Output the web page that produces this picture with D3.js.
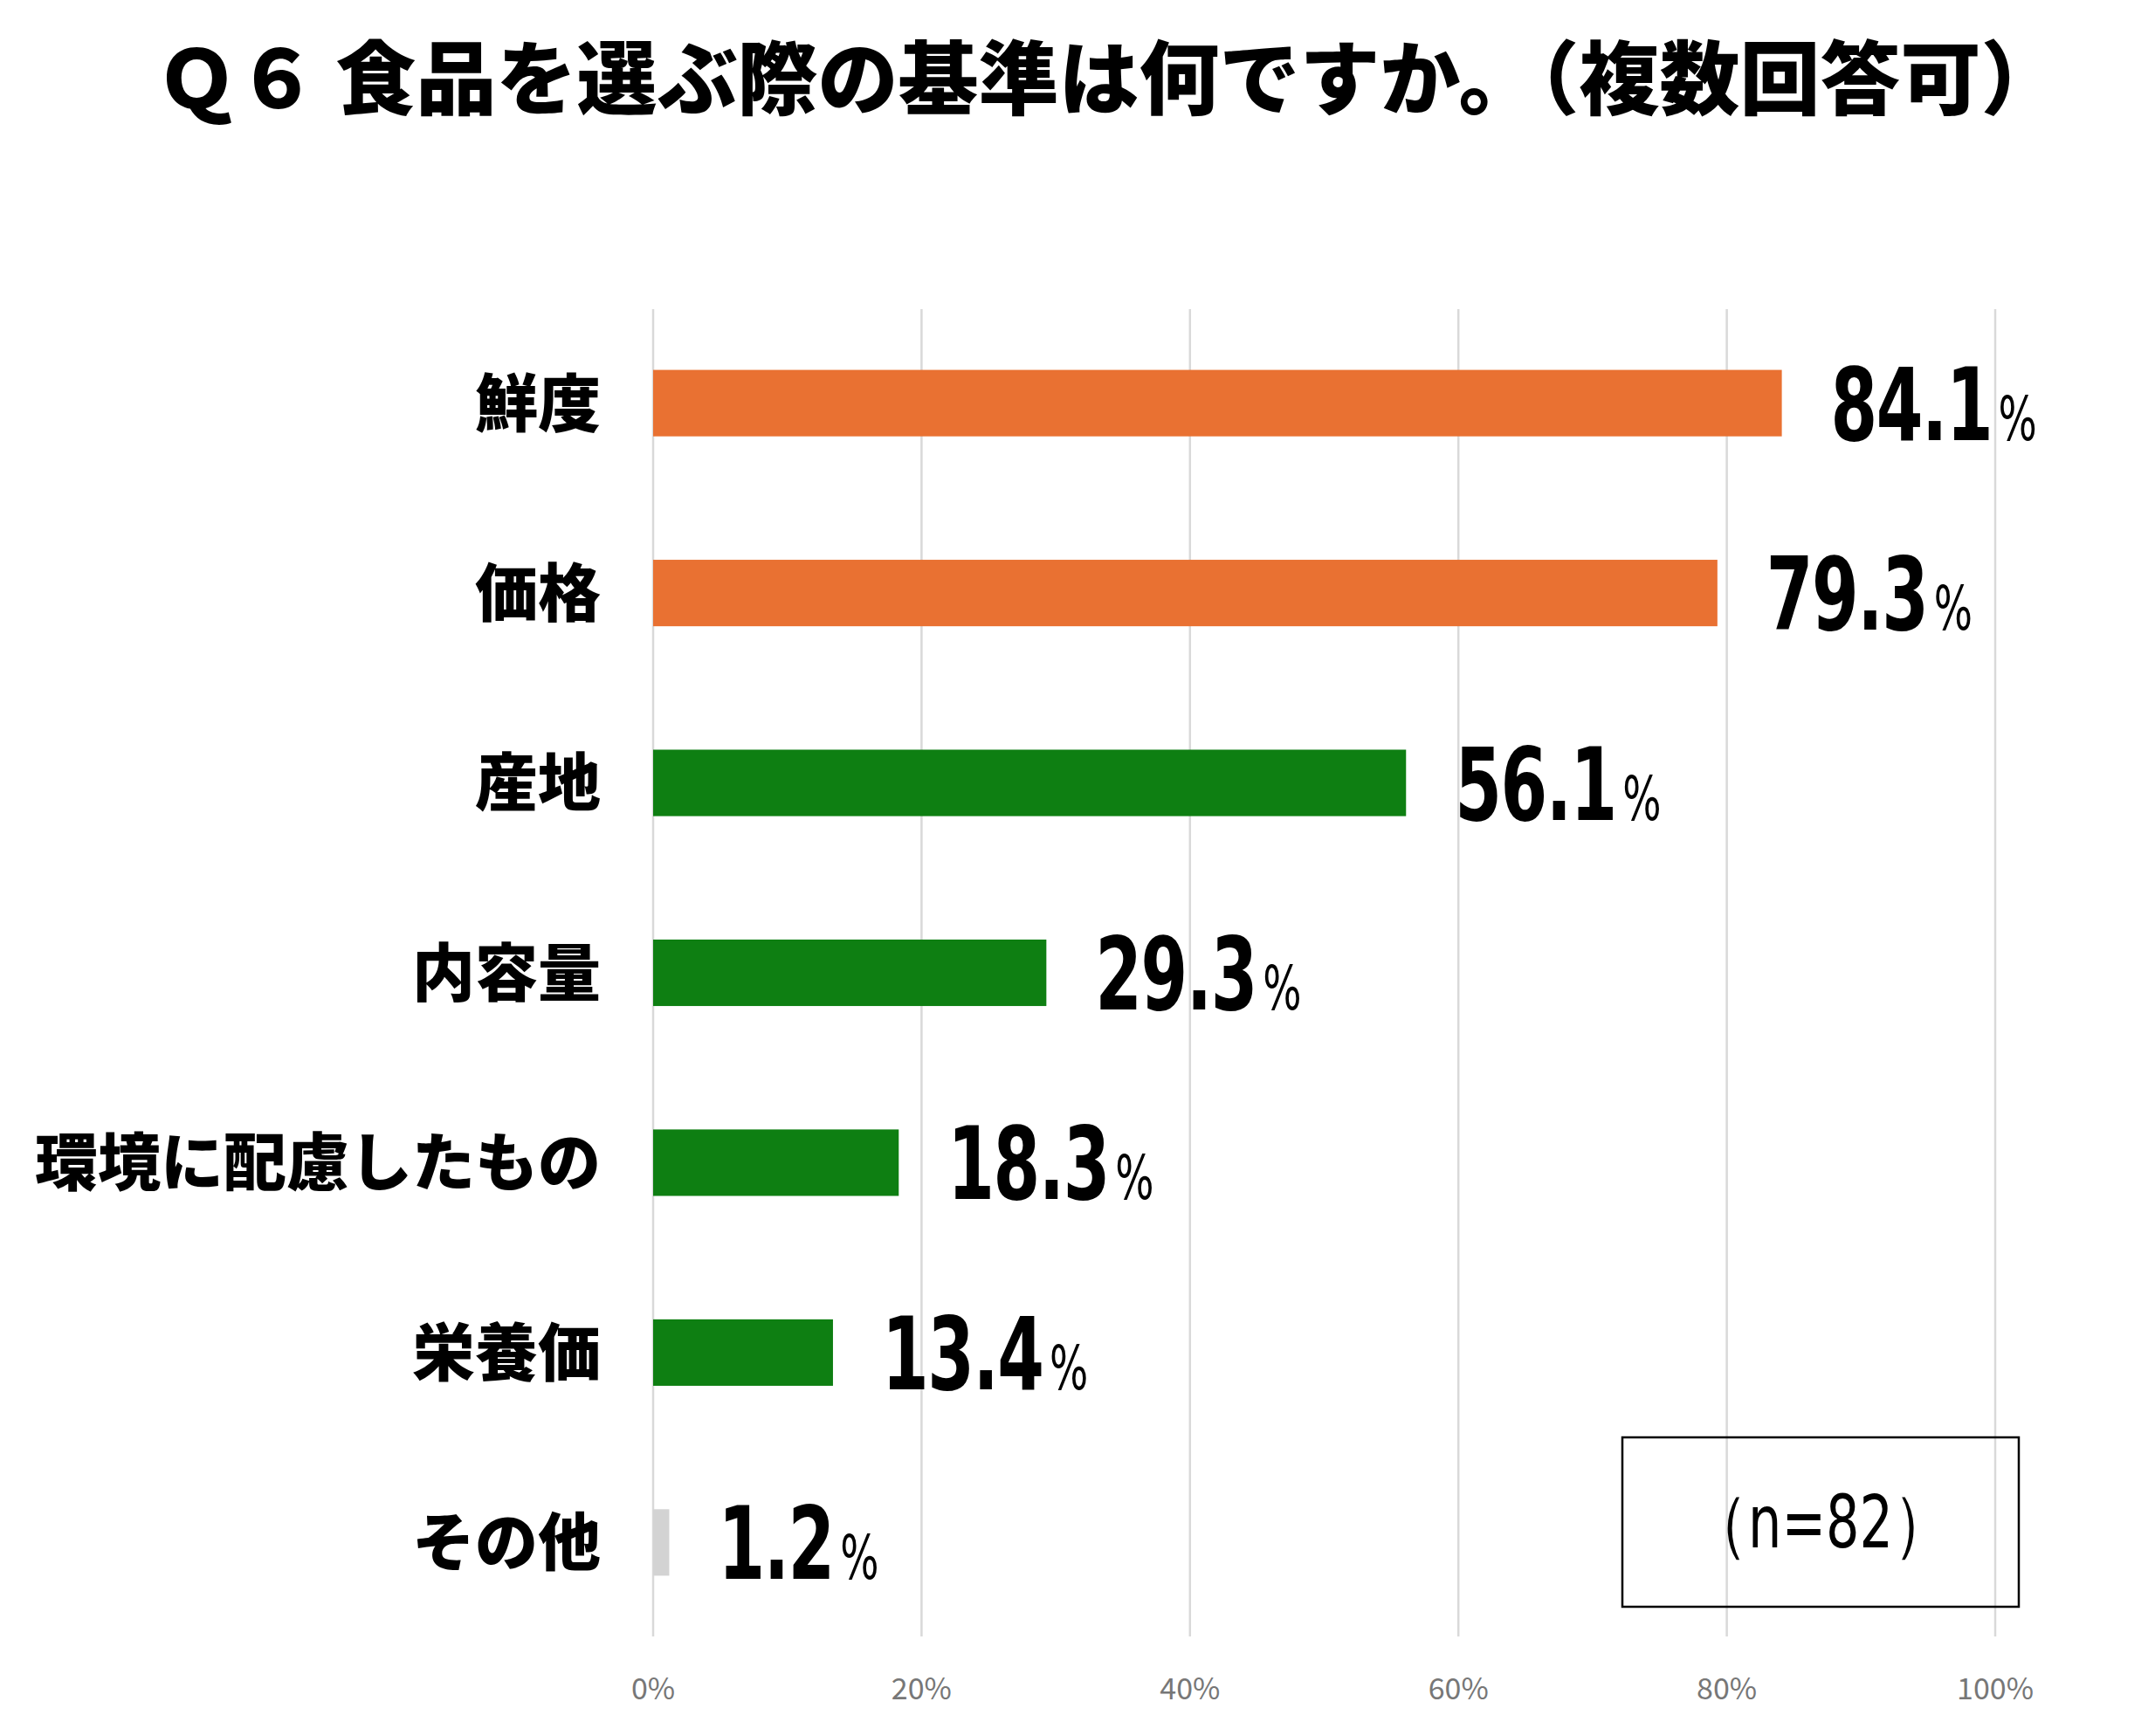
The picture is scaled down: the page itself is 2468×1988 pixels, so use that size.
<!DOCTYPE html>
<html><head><meta charset="utf-8">
<script src="https://cdn.jsdelivr.net/npm/d3@7"></script>
<style>body{margin:0;background:#fff}</style>
</head><body>
<svg width="2468" height="1988"></svg>
<script>
const categories = ["鮮度", "価格", "産地", "内容量", "環境に配慮したもの", "栄養価", "その他"];
const values = [84.1, 79.3, 56.1, 29.3, 18.3, 13.4, 1.2];
const colors = ["#E97132", "#E97132", "#0E7F12", "#0E7F12", "#0E7F12", "#0E7F12", "#D3D3D3"];
const ticks = [0, 20, 40, 60, 80, 100];

const svg = d3.select("svg");
const jp = "'Noto Sans CJK JP', sans-serif";
const sx = 0.74;

const x = d3.scaleLinear().domain([0, 100]).range([748, 2285]);
const y = d3.scaleBand().domain(categories).range([354, 1874]).paddingInner(0.65).paddingOuter(0.32);

svg.append("text").attr("x", 1270).attr("y", 124).attr("text-anchor", "middle")
  .attr("font-family", jp).attr("font-weight", 900).attr("font-size", 92)
  .text("Ｑ６ 食品を選ぶ際の基準は何ですか。（複数回答可）");

svg.selectAll("line.grid").data(ticks).join("line")
  .attr("x1", d => x(d)).attr("x2", d => x(d))
  .attr("y1", 354).attr("y2", 1874)
  .attr("stroke", "#d9d9d9").attr("stroke-width", 2.5);

svg.selectAll("text.tick").data(ticks).join("text")
  .attr("x", d => x(d)).attr("y", 1946).attr("text-anchor", "middle")
  .attr("font-family", jp).attr("font-size", 34).attr("fill", "#777")
  .text(d => d + "%");

svg.selectAll("rect.bar").data(values).join("rect")
  .attr("x", x(0)).attr("y", (d, i) => y(categories[i]))
  .attr("width", d => x(d) - x(0)).attr("height", y.bandwidth())
  .attr("fill", (d, i) => colors[i]);

svg.selectAll("text.cat").data(categories).join("text")
  .attr("x", 688).attr("y", d => y(d) + y.bandwidth() / 2)
  .attr("dy", "0.36em").attr("text-anchor", "end")
  .attr("font-family", jp).attr("font-weight", 900).attr("font-size", 72)
  .text(d => d);

const lab = svg.selectAll("text.val").data(values).join("text")
  .attr("transform", (d, i) => `translate(${x(d) + 56},${y(categories[i]) + y.bandwidth() / 2 + 42}) scale(${sx},1)`)
  .attr("font-family", "'DejaVu Sans Condensed', 'DejaVu Sans', sans-serif")
  .attr("font-weight", "bold").attr("font-size", 116)
  .attr("letter-spacing", -2);
lab.append("tspan").text(d => d.toFixed(1));
lab.append("tspan").attr("font-size", 70).attr("font-weight", "normal").attr("dx", 10).text("%");

svg.append("rect").attr("x", 1858).attr("y", 1646).attr("width", 454).attr("height", 194)
  .attr("fill", "none").attr("stroke", "#000").attr("stroke-width", 2.5);
svg.append("text").attr("transform", "translate(2085,1772) scale(0.8,1)").attr("text-anchor", "middle")
  .attr("font-family", "'DejaVu Sans Condensed', sans-serif").attr("font-size", 84)
  .text("（n=82）");
</script>
</body></html>
